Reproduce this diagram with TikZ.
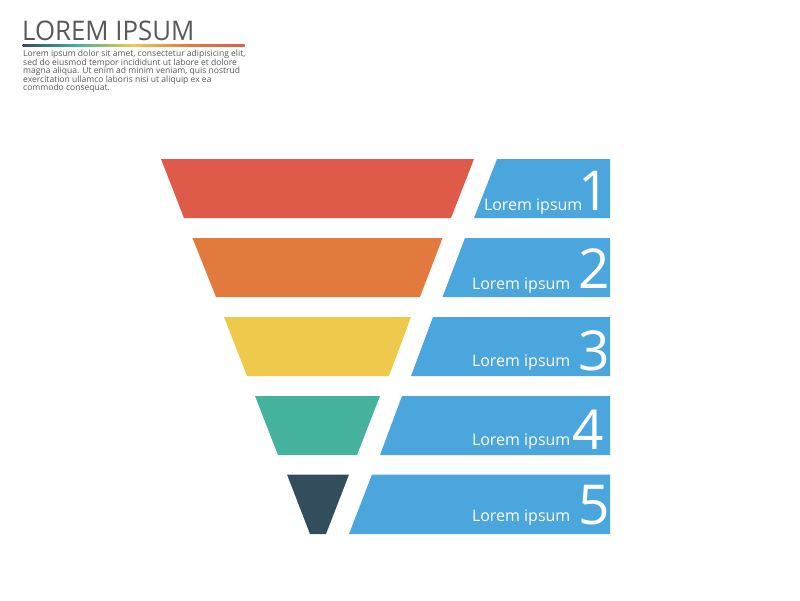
\documentclass[tikz,border=0pt]{standalone}
\usepackage{fontspec}
\setmainfont{Open Sans}
\definecolor{cRed}{HTML}{E05A49}
\definecolor{cOrange}{HTML}{E27A3D}
\definecolor{cYellow}{HTML}{EFC94C}
\definecolor{cGreen}{HTML}{45B29D}
\definecolor{cDark}{HTML}{334D5C}
\definecolor{cBlue}{HTML}{4AA6DD}
\definecolor{cText}{HTML}{58595B}
\newfontfamily\titlefont[FakeStretch=0.955]{Open Sans}
\tikzset{
  txt/.style={inner sep=0pt,outer sep=0pt,anchor=base west,text=white},
  lorem/.style={txt,font=\fontsize{16}{18}\selectfont},
  digit/.style={txt,font=\fontsize{55}{60}\selectfont},
  body/.style={inner sep=0pt,anchor=base west,text=cText,font=\fontsize{8.55}{9}\selectfont},
}
\begin{document}
\begin{tikzpicture}[x=1pt,y=-1pt]
\useasboundingbox (0,0) rectangle (800,600);
\fill[white] (0,0) rectangle (800,600);
% funnel
\fill[cRed] (161,159)--(474,159)--(451,218)--(184,218)--cycle;
\fill[cOrange] (192.5,238)--(442.5,238)--(420,297)--(216,297)--cycle;
\fill[cYellow] (224,317)--(411,317)--(389,376)--(247,376)--cycle;
\fill[cGreen] (255,396)--(380,396)--(357,455)--(278,455)--cycle;
\fill[cDark] (287,474.5)--(349,474.5)--(326,534)--(310,534)--cycle;
% blue bars
\fill[cBlue] (497,159)--(610,159)--(610,218)--(474,218)--cycle;
\fill[cBlue] (465,238)--(610,238)--(610,297)--(442.5,297)--cycle;
\fill[cBlue] (433,317)--(610,317)--(610,376)--(411,376)--cycle;
\fill[cBlue] (402,396)--(610,396)--(610,455)--(380,455)--cycle;
\fill[cBlue] (372,474.5)--(610,474.5)--(610,534)--(349,534)--cycle;
% labels
\node[lorem] (l1) at (484,210) {Lorem ipsum};
\node[lorem] (l2) at (472,289) {Lorem ipsum};
\node[lorem] (l3) at (472,366.5) {Lorem ipsum};
\node[lorem] (l4) at (472,445.5) {Lorem ipsum};
\node[lorem] (l5) at (472,521) {Lorem ipsum};
\node[digit] (d1) at (578,210) {1};
\node[digit] (d2) at (578,288) {2};
\node[digit] (d3) at (578,370) {3};
\node[digit] (d4) at (572,449) {4};
\node[digit] (d5) at (578,524) {5};
% title
\node[inner sep=0pt,anchor=base west,text=cText,font=\titlefont\fontsize{27}{30}\selectfont] (title) at (22,40.5) {LOREM IPSUM};
\shade[left color=cDark,right color=cGreen] (22.5,44) rectangle (78,46.2);
\shade[left color=cGreen,right color=cYellow] (78,44) rectangle (133,46.2);
\shade[left color=cYellow,right color=cOrange] (133,44) rectangle (189,46.2);
\shade[left color=cOrange,right color=cRed] (189,44) rectangle (244.5,46.2);
\node[body] (b1) at (23,56.5) {Lorem ipsum dolor sit amet, consectetur adipisicing elit,};
\node[body] (b2) at (23,65) {sed do eiusmod tempor incididunt ut labore et dolore};
\node[body] (b3) at (23,73.5) {magna aliqua. Ut enim ad minim veniam, quis nostrud};
\node[body] (b4) at (23,82) {exercitation ullamco laboris nisi ut aliquip ex ea};
\node[body] (b5) at (23,90.5) {commodo consequat.};
\end{tikzpicture}
\end{document}
